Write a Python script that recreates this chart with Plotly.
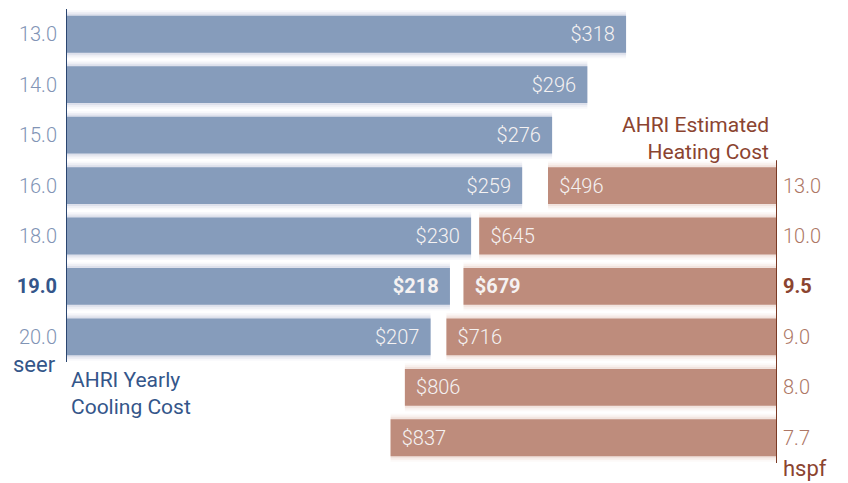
import plotly.graph_objects as go

# ---- data ----
seer_labels = ["13.0", "14.0", "15.0", "16.0", "18.0", "19.0", "20.0"]
cooling_cost = [318, 296, 276, 259, 230, 218, 207]
hspf_labels = ["13.0", "10.0", "9.5", "9.0", "8.0", "7.7"]
heating_cost = [496, 645, 679, 716, 806, 837]
highlight_seer = "19.0"
highlight_hspf = "9.5"
heat_row_offset = 3  # heating rows start alongside the 16.0 seer row

# ---- styling ----
BLUE = "#869cbb"
BLUE_DARK = "#34568a"
BLUE_TICK = "#8194b5"
BROWN = "#be8c7c"
BROWN_DARK = "#8b4430"
BROWN_TICK = "#ad7765"
LABEL = "#f5f2f2"
FONT = "Roboto"
PAD = "\u2009\u2009"

cool_y = list(range(len(cooling_cost)))
heat_y = [i + heat_row_offset for i in range(len(heating_cost))]
n_rows = max(heat_y) + 1

def fmt(v, bold):
    s = f"${v}"
    return f"<b>{s}</b>" if bold else s

cool_text = [fmt(v, l == highlight_seer) + PAD for v, l in zip(cooling_cost, seer_labels)]
heat_text = [PAD + fmt(v, l == highlight_hspf) for v, l in zip(heating_cost, hspf_labels)]

fig = go.Figure()

# soft glow behind bars
for w, a in [(0.95, 0.05), (0.88, 0.08), (0.81, 0.12)]:
    fig.add_trace(go.Bar(x=cooling_cost, y=cool_y, orientation="h", width=w,
                         marker=dict(color=f"rgba(110,125,170,{a})", line_width=0),
                         hoverinfo="skip", showlegend=False, xaxis="x", yaxis="y"))
    fig.add_trace(go.Bar(x=heating_cost, y=heat_y, orientation="h", width=w,
                         marker=dict(color=f"rgba(200,140,115,{a})", line_width=0),
                         hoverinfo="skip", showlegend=False, xaxis="x2", yaxis="y2"))

fig.add_trace(go.Bar(
    x=cooling_cost, y=cool_y, orientation="h", width=0.73,
    marker=dict(color=BLUE, line_width=0),
    text=cool_text, textposition="inside", insidetextanchor="end",
    textfont=dict(color=LABEL, size=20, family=FONT, weight=300),
    constraintext="none", showlegend=False, xaxis="x", yaxis="y"))

fig.add_trace(go.Bar(
    x=heating_cost, y=heat_y, orientation="h", width=0.73,
    marker=dict(color=BROWN, line_width=0),
    text=heat_text, textposition="inside", insidetextanchor="end",
    textfont=dict(color=LABEL, size=20, family=FONT, weight=300),
    constraintext="none", showlegend=False, xaxis="x2", yaxis="y2"))

def tick(lbl, hl, c, cd):
    if lbl == hl:
        return f"<b><span style='color:{cd}'>{lbl}</span></b>"
    return f"<span style='color:{c}'>{lbl}</span>"

yr = [n_rows - 0.5, -0.5]

fig.update_layout(
    width=848, height=483,
    margin=dict(l=66, r=71, t=9, b=20, autoexpand=False),
    paper_bgcolor="white", plot_bgcolor="white",
    barmode="overlay",
    font=dict(family=FONT, weight=300),
    xaxis=dict(range=[0, 403.7], visible=False, fixedrange=True, automargin=False),
    xaxis2=dict(range=[1540, 0], overlaying="x", visible=False, fixedrange=True, automargin=False),
    yaxis=dict(range=yr, tickmode="array", tickvals=cool_y, automargin=False,
               ticktext=[tick(l, highlight_seer, BLUE_TICK, BLUE_DARK) for l in seer_labels],
               tickfont=dict(size=20, family=FONT, weight=300), ticks="",
               ticklabelstandoff=8, showgrid=False, zeroline=False, showline=False),
    yaxis2=dict(range=yr, overlaying="y", side="right", tickmode="array", tickvals=heat_y,
                automargin=False,
                ticktext=[tick(l, highlight_hspf, BROWN_TICK, BROWN_DARK) for l in hspf_labels],
                tickfont=dict(size=20, family=FONT, weight=300), ticks="",
                ticklabelstandoff=5, showgrid=False, zeroline=False, showline=False),
)

# axis spines covering only their own rows
fig.add_shape(type="line", xref="x", yref="y", x0=0, x1=0,
              y0=-0.5, y1=max(cool_y) + 0.5, line=dict(color="#2b4670", width=2))
fig.add_shape(type="line", xref="x2", yref="y2", x0=0, x1=0,
              y0=min(heat_y) - 0.5, y1=max(heat_y) + 0.5, line=dict(color="#7a3a24", width=2))

fig.add_annotation(xref="paper", yref="y", x=0, y=max(cool_y) + 0.5, xanchor="right",
                   yanchor="middle", xshift=-8, yshift=-2, text="seer", showarrow=False,
                   font=dict(size=22, color=BLUE_DARK, family=FONT, weight=400))
fig.add_annotation(xref="paper", yref="y2", x=1, y=max(heat_y) + 0.5, xanchor="left",
                   yanchor="middle", xshift=4, yshift=-5, text="hspf", showarrow=False,
                   font=dict(size=22, color=BROWN_DARK, family=FONT, weight=400))
fig.add_annotation(xref="paper", yref="y", x=0, y=max(cool_y) + 0.5, xanchor="left",
                   yanchor="top", xshift=3, yshift=-4, align="left",
                   text="AHRI Yearly<br>Cooling Cost", showarrow=False,
                   font=dict(size=21, color=BLUE_DARK, family=FONT, weight=400))
fig.add_annotation(xref="paper", yref="y2", x=1, y=min(heat_y) - 0.5, xanchor="right",
                   yanchor="bottom", xshift=-6, yshift=-6, align="right",
                   text="AHRI Estimated<br>Heating Cost", showarrow=False,
                   font=dict(size=21, color=BROWN_DARK, family=FONT, weight=400))

fig.write_html("out.html", config={"displayModeBar": False},
               post_script="document.body.style.margin='0';document.body.style.overflow='hidden';")
